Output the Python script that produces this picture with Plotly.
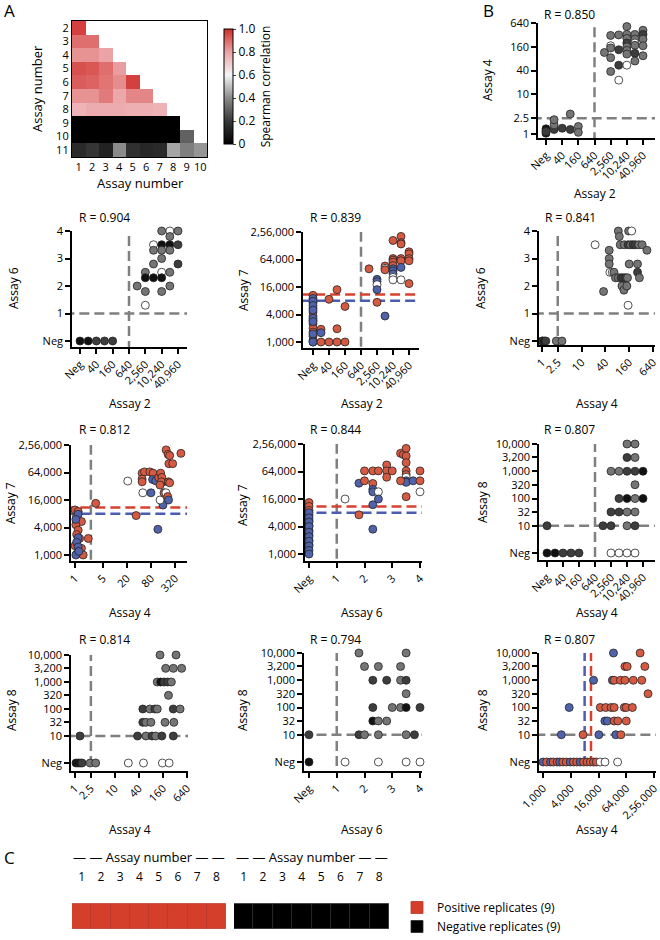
import math
import plotly.graph_objects as go

W, H = 660, 940
FONT = "Open Sans"

# ---------------- data: panel A heatmap ----------------
heat_rows = [2, 3, 4, 5, 6, 7, 8, 9, 10, 11]
heat_cols = [1, 2, 3, 4, 5, 6, 7, 8, 9, 10]
heat_r2 = [0.97]
heat_r3 = [0.89, 0.89]
heat_r4 = [0.83, 0.83, 0.80]
heat_r5 = [0.94, 0.93, 0.89, 0.81]
heat_r6 = [0.92, 0.91, 0.88, 0.84, 0.97]
heat_r7 = [0.83, 0.83, 0.87, 0.79, 0.85, 0.85]
heat_r8 = [0.76, 0.78, 0.78, 0.78, 0.77, 0.77, 0.76]
heat_r9 = [0.0, 0.0, 0.0, 0.0, 0.0, 0.0, 0.0, 0.0]
heat_r10 = [0.0, 0.0, 0.0, 0.0, 0.0, 0.0, 0.0, 0.0, 0.30]
heat_r11 = [0.15, 0.19, 0.12, 0.40, 0.17, 0.14, 0.15, 0.45, 0.37, 0.42]
cbar_vals = [0, 0.2, 0.4, 0.6, 0.8, 1.0]
cbar_text = ["0", "0.2", "0.4", "0.6", "0.8", "1.0"]

# ---------------- tick labels ----------------
assay2_vals = [10, 40, 160, 640, 2560, 10240, 40960]
assay2_text = ["Neg", "40", "160", "640", "2,560", "10,240", "40,960"]
assay4_vals = [1, 2.5, 10, 40, 160, 640]
assay4_text = ["1", "2.5", "10", "40", "160", "640"]
assay4b_vals = [1, 5, 20, 80, 320]
assay4b_text = ["1", "5", "20", "80", "320"]
assay6_vals = [0, 1, 2, 3, 4]
assay6_text = ["Neg", "1", "2", "3", "4"]
assay7_vals = [1000, 4000, 16000, 64000, 256000]
assay7_text = ["1,000", "4,000", "16,000", "64,000", "2,56,000"]
assay8_vals = [1, 10, 32, 100, 320, 1000, 3200, 10000]
assay8_text = ["Neg", "10", "32", "100", "320", "1,000", "3,200", "10,000"]

# ---------------- scatter data (x, y, colour group) ----------------
# colour groups: k black, d dark grey, g grey, w white, r positive (red), b blue
b_x = [10, 10, 10, 10, 20, 20, 20, 40, 80, 80, 160, 160,
       1500, 2560, 2560, 2560, 2560, 2560, 5120, 5120, 5120, 5120,
       10240, 10240, 10240, 10240, 10240, 10240, 10240, 10240,
       20480, 20480, 20480, 20480, 20480, 20480,
       40960, 40960, 40960, 40960, 40960]
b_y = [1.05, 1.2, 1.35, 1.15, 1.3, 1.7, 2.3, 1.4, 1.3, 3.2, 1.55, 1.1,
       115, 310, 170, 150, 85, 38, 320, 135, 55, 23,
       520, 330, 260, 200, 160, 130, 105, 55,
       330, 250, 200, 175, 110, 70,
       420, 330, 250, 170, 95]
b_c = ["k", "d", "k", "d", "d", "g", "g", "d", "d", "g", "g", "g",
       "g", "g", "w", "g", "g", "g", "g", "d", "d", "w",
       "g", "g", "g", "d", "g", "g", "g", "w",
       "g", "g", "w", "g", "d", "g",
       "g", "d", "g", "g", "g"]

a26_x = [10, 20, 40, 80, 160, 1280, 2560, 2560, 2560, 2560,
         5120, 5120, 5120, 5120,
         10240, 10240, 10240, 10240, 10240, 10240, 10240,
         20480, 20480, 20480, 20480, 20480, 20480,
         40960, 40960, 40960]
a26_y = [0, 0, 0, 0, 0, 2.0, 2.5, 2.3, 1.8, 1.3,
         3.5, 3.3, 2.8, 2.3,
         4.0, 3.5, 3.3, 3.0, 2.5, 2.3, 1.8,
         4.0, 3.8, 3.5, 3.3, 2.5, 2.0,
         4.0, 3.5, 2.8]
a26_c = ["k", "k", "d", "d", "d", "g", "g", "k", "g", "w",
         "w", "g", "g", "k",
         "g", "k", "g", "g", "w", "k", "g",
         "w", "g", "k", "g", "g", "g",
         "g", "d", "d"]

a27_x = [10] * 20 + [20, 20, 20, 40, 40, 80, 80, 80, 160, 160, 1280,
         2560, 2560, 2560, 2560, 2560, 5120, 5120, 5120, 5120,
         10240, 10240, 10240, 10240, 10240, 10240, 10240, 10240, 10240, 10240,
         20480, 20480, 20480, 20480, 20480, 20480, 20480,
         40960, 40960, 40960, 40960, 40960]
a27_y = [10500, 7200, 5500, 4500, 3700, 3000, 2500, 2000, 1650, 1350, 1100, 1000,
         9000, 7800, 6300, 5000, 3300, 2800, 1500, 1000,
         1900, 1600, 1000, 8600, 1000, 14000, 1950, 1000, 6000, 1000, 40000,
         23500, 21000, 18000, 14000, 7400, 46000, 41000, 38000, 3700,
         167000, 67000, 62000, 56000, 47000, 40000, 36000, 31000, 26000, 23000,
         205000, 150000, 140000, 67000, 60000, 43000, 23000,
         94000, 85000, 67000, 60000, 19000]
a27_c = ["r"] * 12 + ["b"] * 8 + ["r", "b", "r", "r", "r", "r", "r", "r", "r", "r", "r",
         "b", "b", "w", "b", "r", "r", "w", "r", "b",
         "r", "r", "r", "r", "r", "b", "b", "b", "w", "w",
         "r", "r", "r", "r", "r", "b", "w",
         "r", "r", "r", "r", "r"]

a46_x = [1.0, 1.05, 1.15, 1.25, 2.3, 3.2, 22, 36, 50, 50, 50, 52, 60, 66,
         85, 90, 95, 72, 85, 100, 115, 130, 145, 105, 118, 140, 150, 155, 185,
         120, 150, 175, 200, 230, 280, 340, 160, 260, 260, 290, 450]
a46_y = [0, 0, 0, 0, 0, 0, 3.5, 1.8, 3.3, 3.0, 2.8, 2.5, 2.5, 2.5,
         4.0, 3.8, 3.5, 2.3, 2.3, 2.3, 2.3, 2.3, 2.3, 2.0, 1.85, 2.0, 1.3, 4.0, 4.0,
         3.5, 3.5, 3.5, 3.5, 3.5, 3.5, 3.5, 2.8, 2.8, 2.5, 2.3, 3.3]
a46_c = ["k", "d", "k", "d", "g", "g", "w", "g", "g", "g", "g", "w", "w", "g",
         "g", "g", "g", "g", "g", "d", "d", "d", "g", "g", "g", "g", "w", "g", "w",
         "g", "d", "g", "d", "d", "g", "g", "g", "g", "d", "g", "g"]

a47_x = [1.0, 1.2, 1.1, 1.45, 1.05, 1.2, 1.1, 1.3, 1.0, 1.45, 1.1, 1.6,
         1.2, 1.05, 1.2, 1.1, 1.2, 1.05, 1.25,
         2.15, 3.3, 21, 34, 50, 80, 48, 55, 75, 90, 48, 48, 88, 105, 160, 119,
         125, 140, 150, 145, 135, 160, 135, 170, 190, 210, 220, 220, 235,
         192, 215, 235, 225, 280, 450]
a47_y = [9700, 9000, 7100, 5400, 4600, 3500, 2800, 2300, 1600, 1400, 1050, 1000,
         7800, 6000, 2400, 1900, 1500, 1000, 1200,
         2300, 13500, 41600, 7300, 23000, 23000, 62000, 66000, 66000, 62000, 46000, 40000,
         45000, 42000, 40000, 3650,
         50000, 62000, 50000, 40000, 34000, 12400, 16000, 23000, 23000, 19000, 16000, 40000, 38000,
         200000, 160000, 150000, 100000, 100000, 168000]
a47_c = ["r"] * 12 + ["b"] * 7 + ["r", "r", "w", "r", "w", "b", "r", "r", "r", "r", "r", "r",
         "b", "b", "b", "b",
         "r", "r", "r", "r", "r", "b", "w", "r", "w", "r", "b", "r", "r",
         "r", "r", "r", "r", "r", "r"]

a67_x = [0] * 20 + [1.3, 1.8, 1.8, 2.0, 2.0, 2.3, 2.3, 2.3, 2.3, 2.3, 2.3,
         2.5, 2.5, 2.5, 2.8, 2.8, 2.8, 3.0,
         3.3, 3.4, 3.5, 3.5, 3.5, 3.5, 3.5, 3.5, 3.5, 3.5, 3.3, 3.5,
         3.75, 4.0, 4.0, 4.0]
a67_y = [13400, 11000, 9000, 7000, 5500, 4200, 3300, 2600, 2000, 1600,
         8000, 6200, 5000, 4000, 3000, 2400, 1900, 1500, 1200, 1000,
         16000, 7200, 35500, 66000, 40000, 66000, 35000, 26000, 23000, 12000, 3500,
         66000, 23000, 16000, 89000, 66000, 48000, 66000,
         160000, 150000, 205000, 140000, 100000, 66000, 55000, 48000, 40000, 37000, 40000, 18000,
         40000, 66000, 40000, 23000]
a67_c = ["r"] * 10 + ["b"] * 10 + ["w", "r", "b", "r", "r", "r", "r", "b", "b", "b", "b",
         "r", "w", "b", "r", "r", "r", "r",
         "r", "r", "r", "r", "r", "r", "r", "w", "b", "b", "r", "r",
         "b", "r", "r", "w"]

a48_x = [10, 20, 40, 80, 160, 10, 1280, 2560, 10240, 20480,
         2560, 5120, 10240, 20480, 2560, 5120, 10240, 20480,
         5120, 10240, 20480, 40960, 20480,
         2560, 5120, 10240, 20480, 40960, 10240, 20480, 10240, 20480]
a48_y = [1, 1, 1, 1, 1, 10, 10, 10, 10, 10,
         1, 1, 1, 1, 32, 32, 32, 32,
         100, 100, 100, 100, 320,
         1000, 1000, 1000, 1000, 1000, 3200, 3200, 10000, 10000]
a48_c = ["k", "k", "d", "d", "d", "d", "d", "d", "g", "d",
         "w", "w", "w", "w", "d", "d", "g", "g",
         "d", "k", "g", "k", "g",
         "g", "g", "d", "d", "k", "d", "g", "g", "g"]

a48b_x = [1.06, 1.2, 1.35, 1.5, 2.4, 3.3, 21.7, 52, 155, 228,
          1.33, 37, 60, 85, 105, 150, 290,
          50, 60, 80, 180, 300,
          50, 75, 100, 115, 290, 430, 220,
          115, 140, 170, 210, 260, 187, 292, 470, 135, 340]
a48b_y = [1, 1, 1, 1, 1, 1, 1, 1, 1, 1,
          10, 10, 10, 10, 10, 10, 10,
          32, 32, 32, 32, 32,
          100, 100, 100, 100, 100, 100, 320,
          1000, 1000, 1000, 1000, 1000, 3200, 3200, 3200, 10000, 10000]
a48b_c = ["k", "k", "k", "d", "g", "g", "w", "w", "w", "w",
          "d", "d", "g", "d", "g", "d", "d",
          "d", "g", "g", "g", "g",
          "d", "g", "d", "g", "d", "g", "g",
          "g", "k", "d", "d", "g", "g", "g", "g", "g", "g"]

a68_x = [0, 1.3, 2.5, 3.5, 4.0, 0, 1.8, 2.0, 2.5, 3.5, 3.8,
         2.3, 2.5, 2.8, 2.3, 3.0, 3.3, 3.5, 4.0, 3.5,
         2.3, 2.8, 3.3, 3.5, 2.0, 2.5, 3.3, 1.8, 3.5]
a68_y = [1, 1, 1, 1, 1, 10, 10, 10, 10, 10, 10,
         32, 32, 32, 100, 100, 100, 100, 100, 320,
         1000, 1000, 1000, 1000, 3200, 3200, 3200, 10000, 10000]
a68_c = ["k", "w", "w", "w", "w", "d", "d", "g", "g", "g", "d",
         "k", "g", "g", "d", "g", "g", "k", "d", "g",
         "d", "d", "g", "d", "g", "g", "g", "g", "g"]

a78_x = [1000, 1200, 1460, 1670, 2030, 2300, 2700, 3200, 3900, 4600, 5400, 6400,
         7600, 9000, 10600, 12500, 14300, 17400, 22100, 41500,
         2500, 3700, 7400, 16300,
         12500, 32000, 35000, 48000, 60000, 91000, 139000,
         17500, 23000, 30000, 35000, 58000, 64000, 87000,
         22000, 25000, 35000, 42000, 64000,
         38000, 49000, 190000, 60000, 67000, 162000, 33800, 128000]
a78_y = [1] * 20 + [10, 100, 10, 10,
         1000, 1000, 1000, 1000, 1000, 1000, 1000,
         100, 100, 100, 100, 100, 100, 100,
         32, 32, 32, 32, 32,
         10, 10, 320, 3200, 3200, 3200, 10000, 10000]
a78_c = ["b", "r", "b", "r", "r", "b", "r", "r", "b", "r", "r", "b",
         "r", "r", "r", "r", "r", "w", "w", "w",
         "b", "b", "r", "b",
         "b", "b", "r", "r", "r", "r", "r",
         "r", "r", "r", "r", "r", "r", "r",
         "b", "b", "r", "r", "r",
         "b", "r", "r", "r", "r", "r", "b", "r"]

# ---------------- panel C data ----------------
c_assays = [1, 2, 3, 4, 5, 6, 7, 8]
c_positive = [1, 1, 1, 1, 1, 1, 1, 1]
c_negative = [1, 1, 1, 1, 1, 1, 1, 1]

# ---------------- styling ----------------
CMAP = {"k": "#111111", "d": "#3d3d3d", "g": "#757575", "w": "#ffffff",
        "r": "#d65a42", "b": "#4f62ab"}
GRAY = "#808080"
RED = "#d8412f"
BLUE = "#4a5db0"

fig = go.Figure()
layout = dict(width=W, height=H, margin=dict(l=0, r=0, t=0, b=0, autoexpand=False),
              paper_bgcolor="white", plot_bgcolor="white",
              font=dict(family=FONT, color="black"), annotations=[], showlegend=True)


def txt(s, x, y, size=11, xanchor="center", yanchor="middle", angle=0):
    layout["annotations"].append(dict(
        text=s, x=x / W, y=1 - y / H, xref="paper", yref="paper", showarrow=False,
        font=dict(family=FONT, size=size, color="black"),
        xanchor=xanchor, yanchor=yanchor, textangle=angle))


def prange(p0, p1, pa, va, pb, vb, log):
    f = (lambda v: math.log10(v)) if log else (lambda v: v)
    ua, ub = f(va), f(vb)
    s = (ub - ua) / (pb - pa)
    return [ua + (p0 - pa) * s, ua + (p1 - pa) * s]


ax_common = dict(showline=True, linecolor="black", linewidth=1.5, ticks="outside",
                 ticklen=5, tickwidth=1.5, tickcolor="black", showgrid=False,
                 zeroline=False, fixedrange=True, automargin=False,
                 ticklabeloverflow="allow",
                 tickfont=dict(family=FONT, size=11, color="black"))

# ---------------- panel A heatmap ----------------
heat_lists = [heat_r2, heat_r3, heat_r4, heat_r5, heat_r6, heat_r7, heat_r8,
              heat_r9, heat_r10, heat_r11]
heat_z = [r + [None] * (len(heat_cols) - len(r)) for r in heat_lists]
fig.add_trace(go.Heatmap(
    x=heat_cols, y=heat_rows, z=heat_z, zmin=0, zmax=1, xaxis="x", yaxis="y",
    colorscale=[[0, "#000000"], [0.2, "#383838"], [0.4, "#8a8a8a"],
                [0.6, "#f5f5f5"], [0.8, "#eba3a6"], [1.0, "#cf2f2a"]],
    hoverinfo="skip", showlegend=False,
    colorbar=dict(x=224 / W, xanchor="left", y=1 - 29 / H, yanchor="top",
                  len=115 / H, lenmode="fraction", thickness=9, thicknessmode="pixels",
                  outlinewidth=1, outlinecolor="black", xpad=0, ypad=0,
                  tickvals=cbar_vals, ticktext=cbar_text, ticks="outside", ticklen=3,
                  tickfont=dict(family=FONT, size=12, color="black"),
                  title=dict(text="Spearman correlation", side="right",
                             font=dict(family=FONT, size=12, color="black")))))
layout["xaxis"] = dict(domain=[72 / W, 207 / W], range=[0.5, 10.5], anchor="y",
                       tickvals=heat_cols, ticks="", showline=True, mirror=True,
                       linecolor="black", linewidth=1.2, showgrid=False, zeroline=False,
                       automargin=False, fixedrange=True,
                       tickfont=dict(family=FONT, size=11, color="black"))
layout["yaxis"] = dict(domain=[1 - 157 / H, 1 - 21 / H], range=[11.5, 1.5], anchor="x",
                       tickvals=heat_rows, ticks="", showline=True, mirror=True,
                       linecolor="black", linewidth=1.2, showgrid=False, zeroline=False,
                       automargin=False, fixedrange=True,
                       tickfont=dict(family=FONT, size=11, color="black"))
txt("Assay number", 140, 183, 13)
txt("Assay number", 37, 89, 13, angle=-90)

XLO = {True: 1e-4, False: -50}
XHI = {True: 1e9, False: 50}


def add_panel(n, xd, yd, xcal, ycal, xlog, ylog, xtv, xtt, ytv, ytt,
              xs, ys, cs, vlines, hlines):
    xr = prange(xd[0], xd[1], *xcal, xlog)
    yr = prange(yd[1], yd[0], *ycal, ylog)
    layout[f"xaxis{n}"] = dict(ax_common, domain=[xd[0] / W, xd[1] / W], range=xr,
                               type="log" if xlog else "linear", tickvals=xtv,
                               ticktext=xtt, tickangle=-45, anchor=f"y{n}")
    layout[f"yaxis{n}"] = dict(ax_common, domain=[1 - yd[1] / H, 1 - yd[0] / H],
                               range=yr, type="log" if ylog else "linear",
                               tickvals=ytv, ticktext=ytt, anchor=f"x{n}")
    for v, col in vlines:
        fig.add_trace(go.Scatter(x=[v, v], y=[XLO[ylog], XHI[ylog]], mode="lines",
                                 line=dict(color=col, width=2.5, dash="10px,5px"),
                                 xaxis=f"x{n}", yaxis=f"y{n}", showlegend=False,
                                 hoverinfo="skip"))
    for v, col in hlines:
        fig.add_trace(go.Scatter(x=[XLO[xlog], XHI[xlog]], y=[v, v], mode="lines",
                                 line=dict(color=col, width=2.5, dash="10px,5px"),
                                 xaxis=f"x{n}", yaxis=f"y{n}", showlegend=False,
                                 hoverinfo="skip"))
    fig.add_trace(go.Scatter(x=xs, y=ys, mode="markers", xaxis=f"x{n}", yaxis=f"y{n}",
                             marker=dict(size=8, color=[CMAP[c] for c in cs],
                                         line=dict(color="#262626", width=0.8)),
                             showlegend=False, hoverinfo="skip", cliponaxis=False))


# B: Assay 2 vs Assay 4
add_panel(2, (538, 655), (23, 138), (546, 10, 643, 40960), (23, 640, 134, 1), True, True,
          assay2_vals, assay2_text, assay4_vals, assay4_text, b_x, b_y, b_c,
          [(640, GRAY)], [(2.5, GRAY)])
txt("R = 0.850", 542, 15, 12, xanchor="left")
txt("Assay 4", 487, 80, 12, angle=-90)
txt("Assay 2", 595, 193, 12)

# Row 2
add_panel(3, (72, 187), (231, 347), (80, 10, 178, 40960), (231, 4, 341, 0), True, False,
          assay2_vals, assay2_text, assay6_vals, assay6_text, a26_x, a26_y, a26_c,
          [(640, GRAY)], [(1, GRAY)])
txt("R = 0.904", 77, 217, 12, xanchor="left")
txt("Assay 6", 13, 288, 12, angle=-90)
txt("Assay 2", 130, 403, 12)

add_panel(4, (303, 419), (232, 348), (313, 10, 409, 40960), (232, 256000, 342, 1000), True, True,
          assay2_vals, assay2_text, assay7_vals, assay7_text, a27_x, a27_y, a27_c,
          [(640, GRAY)], [(11000, RED), (8000, BLUE)])
txt("R = 0.839", 308, 217, 12, xanchor="left")
txt("Assay 7", 243, 290, 12, angle=-90)
txt("Assay 2", 362, 403, 12)

add_panel(5, (539, 655), (231, 345), (542, 1, 653, 640), (231, 4, 341, 0), True, False,
          assay4_vals, assay4_text, assay6_vals, assay6_text, a46_x, a46_y, a46_c,
          [(2.5, GRAY)], [(1, GRAY)])
txt("R = 0.841", 543, 217, 12, xanchor="left")
txt("Assay 6", 480, 288, 12, angle=-90)
txt("Assay 4", 597, 403, 12)

# Row 3
add_panel(6, (71, 187), (445, 561), (75, 1, 175, 320), (445, 256000, 555, 1000), True, True,
          assay4b_vals, assay4b_text, assay7_vals, assay7_text, a47_x, a47_y, a47_c,
          [(2.5, GRAY)], [(11000, RED), (8000, BLUE)])
txt("R = 0.812", 77, 429, 12, xanchor="left")
txt("Assay 7", 11, 503, 12, angle=-90)
txt("Assay 4", 130, 612, 12)

add_panel(7, (305, 422), (444, 561), (309, 0, 420, 4), (444, 256000, 554, 1000), False, True,
          assay6_vals, assay6_text, assay7_vals, assay7_text, a67_x, a67_y, a67_c,
          [(1, GRAY)], [(11000, RED), (8000, BLUE)])
txt("R = 0.844", 308, 429, 12, xanchor="left")
txt("Assay 7", 242, 505, 12, angle=-90)
txt("Assay 6", 362, 612, 12)

add_panel(8, (539, 655), (444, 560), (547, 10, 643, 40960), (444, 10000, 553, 1), True, True,
          assay2_vals, assay2_text, assay8_vals, assay8_text, a48_x, a48_y, a48_c,
          [(640, GRAY)], [(10, GRAY)])
txt("R = 0.807", 542, 429, 12, xanchor="left")
txt("Assay 8", 482, 502, 12, angle=-90)
txt("Assay 4", 597, 612, 12)

# Row 4
add_panel(9, (71, 188), (655, 771), (75, 1, 187, 640), (655, 10000, 763, 1), True, True,
          assay4_vals, assay4_text, assay8_vals, assay8_text, a48b_x, a48b_y, a48b_c,
          [(2.5, GRAY)], [(10, GRAY)])
txt("R = 0.814", 77, 639, 12, xanchor="left")
txt("Assay 8", 11, 710, 12, angle=-90)
txt("Assay 4", 130, 829, 12)

add_panel(10, (304, 422), (653, 771), (309, 0, 420, 4), (653, 10000, 762, 1), False, True,
          assay6_vals, assay6_text, assay8_vals, assay8_text, a68_x, a68_y, a68_c,
          [(1, GRAY)], [(10, GRAY)])
txt("R = 0.794", 308, 639, 12, xanchor="left")
txt("Assay 8", 242, 710, 12, angle=-90)
txt("Assay 6", 362, 829, 12)

add_panel(11, (539, 656), (653, 771), (543, 1000, 654, 256000), (653, 10000, 762, 1), True, True,
          assay7_vals, assay7_text, assay8_vals, assay8_text, a78_x, a78_y, a78_c,
          [(8000, BLUE), (11000, RED)], [(10, GRAY)])
txt("R = 0.807", 542, 639, 12, xanchor="left")
txt("Assay 8", 482, 710, 12, angle=-90)
txt("Assay 4", 597, 829, 12)

# ---------------- panel C ----------------
for n, (x0, x1), vals, col, edge, name in [
        (12, (72, 226), c_positive, "#d43f2b", "#b8352a", "Positive replicates (9)"),
        (13, (234, 389), c_negative, "#000000", "#2a2a2a", "Negative replicates (9)")]:
    fig.add_trace(go.Bar(x=c_assays, y=vals, width=1, marker=dict(color=col, line=dict(color=edge, width=0.8)),
                         xaxis=f"x{n}", yaxis=f"y{n}", name=name, showlegend=True, hoverinfo="skip"))
    layout[f"xaxis{n}"] = dict(domain=[x0 / W, x1 / W], range=[0.5, 8.5], anchor=f"y{n}",
                               side="top", tickvals=c_assays, ticks="", showline=False,
                               showgrid=False, zeroline=False, fixedrange=True, automargin=False,
                               tickfont=dict(family=FONT, size=12, color="black"))
    layout[f"yaxis{n}"] = dict(domain=[1 - 929 / H, 1 - 884 / H], range=[0, 1.8],
                               anchor=f"x{n}", visible=False, fixedrange=True, automargin=False)
    txt("— — Assay number — —", (x0 + x1) / 2, 857, 13)

layout["legend"] = dict(x=397 / W, y=1 - 893 / H, xanchor="left", yanchor="top",
                        font=dict(family=FONT, size=12, color="black"),
                        tracegroupgap=0, itemwidth=30, bgcolor="rgba(0,0,0,0)")
layout["bargap"] = 0

# panel letters
txt("A", 9, 11, 17)
txt("B", 488, 11, 17)
txt("C", 9, 857, 17)

fig.update_layout(**layout)
fig.write_html("out.html", config={"displayModeBar": False},
               post_script="document.body.style.margin='0';document.body.style.overflow='hidden';")
